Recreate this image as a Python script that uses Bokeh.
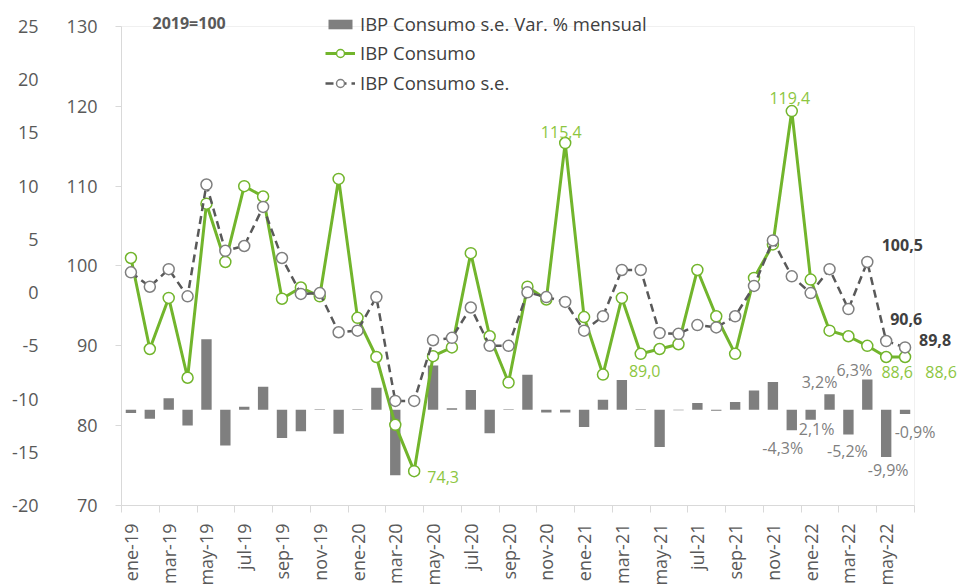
import math
from bokeh.plotting import figure
from bokeh.models import (Range1d, LinearAxis, FixedTicker, Legend, LegendItem,
                          Label, LabelSet, ColumnDataSource)
from bokeh.core.properties import value
from bokeh.embed import file_html
from bokeh.resources import INLINE

# ---------------- data ----------------
months = ["ene-19", "feb-19", "mar-19", "abr-19", "may-19", "jun-19", "jul-19", "ago-19",
          "sep-19", "oct-19", "nov-19", "dic-19",
          "ene-20", "feb-20", "mar-20", "abr-20", "may-20", "jun-20", "jul-20", "ago-20",
          "sep-20", "oct-20", "nov-20", "dic-20",
          "ene-21", "feb-21", "mar-21", "abr-21", "may-21", "jun-21", "jul-21", "ago-21",
          "sep-21", "oct-21", "nov-21", "dic-21",
          "ene-22", "feb-22", "mar-22", "abr-22", "may-22", "jun-22"]

consumo = [101.0, 89.6, 96.0, 86.0, 107.8, 100.5, 110.0, 108.7, 95.9, 97.3, 96.2, 110.9,
           93.5, 88.6, 80.1, 74.3, 88.7, 89.8, 101.6, 91.2, 85.4, 97.4, 95.8, 115.4,
           93.6, 86.4, 96.0, 89.0, 89.6, 90.2, 99.5, 93.7, 89.0, 98.5, 102.7, 119.4,
           98.3, 91.9, 91.2, 90.0, 88.6, 88.6]

consumo_se = [99.2, 97.4, 99.6, 96.2, 110.2, 101.9, 102.5, 107.4, 101.0, 96.5, 96.6, 91.7,
              91.9, 96.1, 83.1, 83.1, 90.7, 91.0, 94.8, 90.0, 90.0, 96.7, 96.1, 95.5,
              91.9, 93.7, 99.5, 99.5, 91.6, 91.5, 92.6, 92.3, 93.7, 97.5, 103.2, 98.7,
              96.6, 99.6, 94.6, 100.5, 90.6, 89.8]

var_mensual = [-0.7, -1.9, 2.4, -3.3, 14.7, -7.5, 0.6, 4.8, -5.9, -4.5, 0.1, -5.0,
               0.1, 4.6, -13.7, 0.0, 9.2, 0.3, 4.1, -4.9, 0.1, 7.3, -0.6, -0.6,
               -3.6, 2.1, 6.2, 0.1, -7.8, -0.1, 1.4, -0.2, 1.6, 4.0, 5.8, -4.3,
               -2.1, 3.2, -5.2, 6.3, -9.9, -0.9]

left_ticks = [-20, -15, -10, -5, 0, 5, 10, 15, 20, 25]
index_ticks = [70, 80, 90, 100, 110, 120, 130]
bar_scale = [-20, 80]

green_lab_idx = [15, 23, 27, 35, 40, 41]
gray_lab_idx = [39, 40, 41]
bar_lab_idx = [35, 36, 37, 38, 39, 40, 41]
bar_lab_text = ["-4,3%", "2,1%", "3,2%", "-5,2%", "6,3%", "-9,9%", "-0,9%"]

# ---------------- styles / layout ----------------
FONT = "Open Sans"
GREEN = "#72B52C"
GREEN_TXT = "#8DC63F"
BAR = "#7F7F7F"
GRAY_LINE = "#595959"
GRAY_MARK = "#7F7F7F"
AX_TXT = "#595959"
DARK_TXT = "#404040"
AX_LINE = "#D9D9D9"
BORDER = "#F0F0F0"

W, H = 957, 588
LEFT, BOTTOM = 121, 82          # border sizes (px)
PLOT_W, PLOT_H = 793, 480       # size of the drawn plot area (px)
TOP_PAD = 26                    # space above the plot area inside frame
frame_w = W - LEFT
frame_h = H - BOTTOM

green_dx = [29, -4, 4, -2, 11, 36]
green_dy = [-6, 11, -17, 13, -15, -15]
gray_dx = [35, 20, 30]
gray_dy = [17, 22, 7]
bar_dx = [-9, 6, -10, -1, -13, 2, 10]
bar_dy = [-18, -9, 12, -16, 10, -13, -18]

idx = list(range(len(months)))
n = len(months)

def ext_range(lo, hi):
    return Range1d(lo, hi + (hi - lo) * TOP_PAD / PLOT_H)

x_lo = -0.5
x_hi_plot = n - 0.5
x_hi = x_lo + (x_hi_plot - x_lo) * frame_w / PLOT_W

p = figure(width=W, height=H,
           x_range=Range1d(x_lo, x_hi),
           y_range=ext_range(index_ticks[0], index_ticks[-1]),
           output_backend="svg", toolbar_location=None,
           min_border_left=LEFT, min_border_right=0, min_border_top=0, min_border_bottom=BOTTOM,
           background_fill_color="white", border_fill_color="white",
           outline_line_color=None)
p.extra_y_ranges = {"bar": ext_range(*bar_scale),
                    "pct": ext_range(left_ticks[0], left_ticks[-1])}
p.xgrid.visible = False
p.ygrid.visible = False

# faint plot-area border (top and right)
p.line([x_lo, x_hi_plot, x_hi_plot], [index_ticks[-1], index_ticks[-1], index_ticks[0]],
       line_color=BORDER, line_width=1)

# inner index axis
ya = p.yaxis[0]
ya.bounds = (index_ticks[0], index_ticks[-1])
ya.ticker = FixedTicker(ticks=index_ticks)
ya.axis_line_color = AX_LINE
ya.major_tick_line_color = AX_LINE
ya.major_tick_out = 6
ya.major_tick_in = 0
ya.minor_tick_line_color = None
ya.major_label_standoff = 18
ya.major_label_text_font = FONT
ya.major_label_text_font_size = "18px"
ya.major_label_text_color = AX_TXT

# outer percentage axis
pa = LinearAxis(y_range_name="pct", ticker=FixedTicker(ticks=left_ticks),
                bounds=(left_ticks[0], left_ticks[-1]))
pa.major_label_overrides = {t: str(t) for t in left_ticks}
pa.axis_line_color = None
pa.major_tick_line_color = None
pa.minor_tick_line_color = None
pa.major_tick_out = 0
pa.major_tick_in = 0
pa.major_label_standoff = 25
pa.major_label_text_font = FONT
pa.major_label_text_font_size = "18px"
pa.major_label_text_color = AX_TXT
p.add_layout(pa, "left")

# x axis
xa = p.xaxis[0]
xa.bounds = (x_lo, x_hi_plot)
lab_pos = idx[::2]
xa.ticker = FixedTicker(ticks=lab_pos,
                        minor_ticks=[i - 0.5 for i in lab_pos] + [idx[-1] + 0.5])
xa.major_label_overrides = {i: months[i] for i in lab_pos}
xa.major_label_orientation = math.pi / 2
xa.major_tick_line_color = None
xa.major_tick_out = 0
xa.major_tick_in = 0
xa.minor_tick_out = 7
xa.minor_tick_in = 0
xa.minor_tick_line_color = AX_LINE
xa.axis_line_color = AX_LINE
xa.major_label_standoff = 11
xa.major_label_text_font = FONT
xa.major_label_text_font_size = "18px"
xa.major_label_text_color = AX_TXT

# ---------------- glyphs ----------------
src = ColumnDataSource(dict(x=idx, consumo=consumo, se=consumo_se, var=var_mensual))

bars = p.vbar(x="x", top="var", bottom=0, width=0.55, source=src, y_range_name="bar",
              fill_color=BAR, line_color=None)

g_line = p.line("x", "consumo", source=src, line_color=GREEN, line_width=3)
g_pts = p.scatter("x", "consumo", source=src, marker="circle", size=11,
                  fill_color="white", line_color=GREEN, line_width=1.5)

s_line = p.line("x", "se", source=src, line_color=GRAY_LINE, line_width=2.5, line_dash="8 5")
s_pts = p.scatter("x", "se", source=src, marker="circle", size=11,
                  fill_color="white", line_color=GRAY_MARK, line_width=1.5)

# ---------------- data labels ----------------
def fmt(v):
    return f"{v:.1f}".replace(".", ",")

g_src = ColumnDataSource(dict(x=green_lab_idx, y=[consumo[i] for i in green_lab_idx],
                              t=[fmt(consumo[i]) for i in green_lab_idx],
                              dx=green_dx, dy=green_dy))
p.add_layout(LabelSet(x="x", y="y", text="t", x_offset="dx", y_offset="dy", source=g_src,
                      text_align="center", text_baseline="middle", text_font=value(FONT),
                      text_font_size="16px", text_color=GREEN_TXT))

s_src = ColumnDataSource(dict(x=gray_lab_idx, y=[consumo_se[i] for i in gray_lab_idx],
                              t=[fmt(consumo_se[i]) for i in gray_lab_idx],
                              dx=gray_dx, dy=gray_dy))
p.add_layout(LabelSet(x="x", y="y", text="t", x_offset="dx", y_offset="dy", source=s_src,
                      text_align="center", text_baseline="middle", text_font=value(FONT),
                      text_font_size="16px", text_font_style="bold", text_color=DARK_TXT))

b_src = ColumnDataSource(dict(x=bar_lab_idx, y=[var_mensual[i] for i in bar_lab_idx],
                              t=bar_lab_text, dx=bar_dx, dy=bar_dy))
p.add_layout(LabelSet(x="x", y="y", text="t", x_offset="dx", y_offset="dy", source=b_src,
                      y_range_name="bar",
                      text_align="center", text_baseline="middle", text_font=value(FONT),
                      text_font_size="16px", text_color=BAR))

p.add_layout(Label(x=31, y=frame_h - 23, x_units="screen", y_units="screen", text="2019=100",
                   text_align="left", text_baseline="middle", text_font=FONT,
                   text_font_size="16px", text_font_style="bold", text_color=AX_TXT))

# ---------------- legends ----------------
leg_common = dict(glyph_width=30, label_standoff=5, padding=0, margin=0,
                  border_line_color=None, background_fill_alpha=0,
                  label_text_font=FONT, label_text_font_size="18.5px",
                  label_text_color=DARK_TXT, label_height=20)
legA = Legend(items=[LegendItem(label="IBP Consumo s.e. Var. % mensual", renderers=[bars])],
              location=(204, frame_h - 37), glyph_height=12, **leg_common)
legB = Legend(items=[LegendItem(label="IBP Consumo", renderers=[g_line, g_pts]),
                     LegendItem(label="IBP Consumo s.e.", renderers=[s_line, s_pts])],
              location=(204, frame_h - 96), glyph_height=20, spacing=5, **leg_common)
p.add_layout(legA, "center")
p.add_layout(legB, "center")

open("out.html", "w").write(file_html(p, INLINE))
